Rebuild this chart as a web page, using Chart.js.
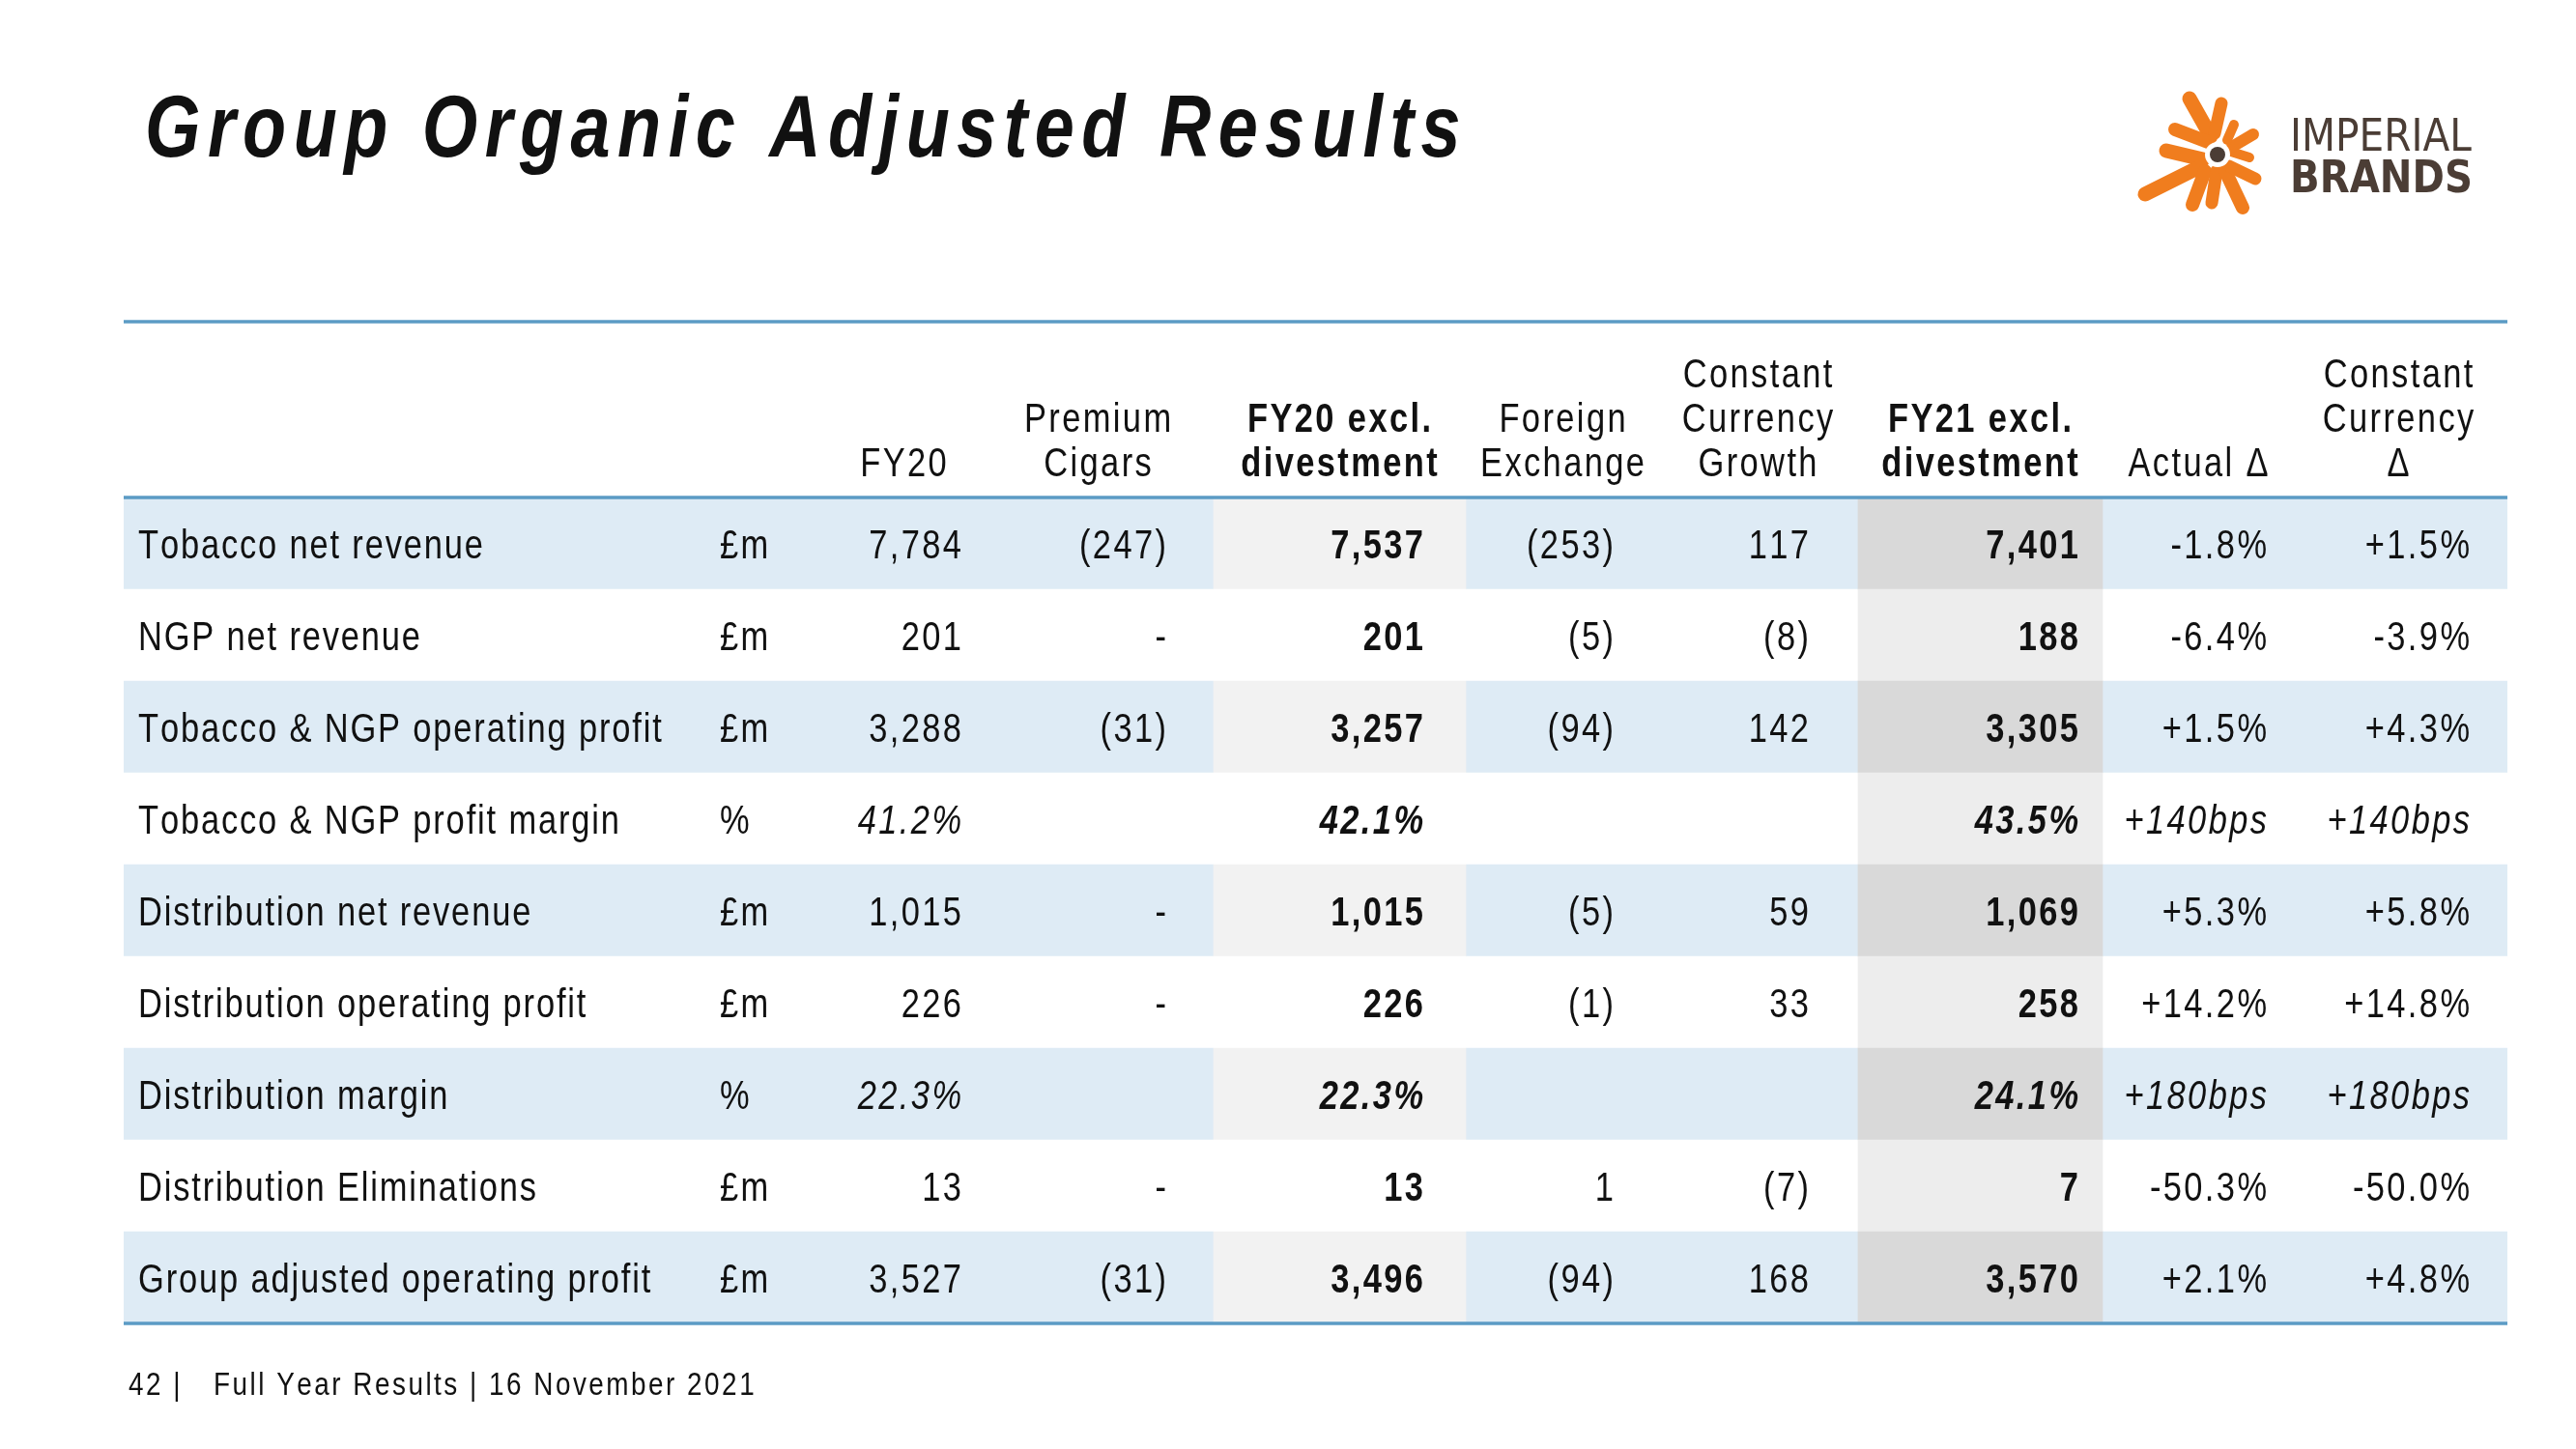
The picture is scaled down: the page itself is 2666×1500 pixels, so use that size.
<!DOCTYPE html>
<html>
<head>
<meta charset="utf-8">
<title>Group Organic Adjusted Results</title>
<script src="https://cdn.jsdelivr.net/npm/chart.js@4.4.1/dist/chart.umd.min.js"></script>
<style>
  html, body { margin: 0; padding: 0; background: #fff; }
  #wrap { width: 2666px; height: 1500px; }
</style>
</head>
<body>
<div id="wrap"><canvas id="results" width="2666" height="1500"></canvas></div>
<script>
// table content
var rowLabels = ['Tobacco net revenue', 'NGP net revenue', 'Tobacco & NGP operating profit', 'Tobacco & NGP profit margin',
    'Distribution net revenue', 'Distribution operating profit', 'Distribution margin', 'Distribution Eliminations',
    'Group adjusted operating profit'];
var units = ['£m', '£m', '£m', '%', '£m', '£m', '%', '£m', '£m'];
var fy20 = ['7,784', '201', '3,288', '41.2%', '1,015', '226', '22.3%', '13', '3,527'];
var premiumCigars = ['(247)', '-', '(31)', '', '-', '-', '', '-', '(31)'];
var fy20Excl = ['7,537', '201', '3,257', '42.1%', '1,015', '226', '22.3%', '13', '3,496'];
var foreignExchange = ['(253)', '(5)', '(94)', '', '(5)', '(1)', '', '1', '(94)'];
var ccGrowth = ['117', '(8)', '142', '', '59', '33', '', '(7)', '168'];
var fy21Excl = ['7,401', '188', '3,305', '43.5%', '1,069', '258', '24.1%', '7', '3,570'];
var actualDelta = ['-1.8%', '-6.4%', '+1.5%', '+140bps', '+5.3%', '+14.2%', '+180bps', '-50.3%', '+2.1%'];
var ccDelta = ['+1.5%', '-3.9%', '+4.3%', '+140bps', '+5.8%', '+14.8%', '+180bps', '-50.0%', '+4.8%'];
var headers = [['FY20'], ['Premium', 'Cigars'], ['FY20 excl.', 'divestment'], ['Foreign', 'Exchange'],
    ['Constant', 'Currency', 'Growth'], ['FY21 excl.', 'divestment'], ['Actual Δ'], ['Constant', 'Currency', 'Δ']];

var titleText = 'Group Organic Adjusted Results';
var footerPage = '42 |';
var footerText = 'Full Year Results | 16 November 2021';

// layout (x in table units = pixels)
var tableLeft = 128, tableRight = 2595;
var fy20ExclBand = [1256, 1517];
var fy21ExclBand = [1923, 2176];
var columns = [
    { values: rowLabels, x: 143, align: 'left', spacing: 1.85 },
    { values: units, x: 745, align: 'left' },
    { values: fy20, x: 995, align: 'right', head: 935 },
    { values: premiumCigars, x: 1207, align: 'right', head: 1136 },
    { values: fy20Excl, x: 1473, align: 'right', bold: true, head: 1386 },
    { values: foreignExchange, x: 1670, align: 'right', head: 1617 },
    { values: ccGrowth, x: 1872, align: 'right', head: 1819 },
    { values: fy21Excl, x: 2151, align: 'right', bold: true, head: 2049 },
    { values: actualDelta, x: 2346, align: 'right', head: 2275 },
    { values: ccDelta, x: 2556, align: 'right', head: 2482 },
];

var BLUE_ROW = '#deebf5';
var RULE = '#5b9bc5';
var INK = '#111111';
var SX = 0.82; // narrow face

function drawText(ctx, s, x, y, o) {
    var size = o.size || 42;
    var spacing = (o.spacing == null ? 2.4 : o.spacing) / SX;
    ctx.save();
    ctx.font = (o.italic ? 'italic ' : '') + (o.bold ? 'bold ' : '') + size + 'px "Liberation Sans", Arial, sans-serif';
    ctx.fillStyle = o.color || INK;
    ctx.textAlign = 'left';
    ctx.textBaseline = 'alphabetic';
    var chars = Array.from(s);
    var widths = chars.map(function (c) { return ctx.measureText(c).width; });
    var w = widths.reduce(function (a, b) { return a + b; }, 0) + spacing * (chars.length - 1);
    var start = o.align === 'right' ? -w : (o.align === 'center' ? -w / 2 : 0);
    ctx.translate(x, y);
    ctx.scale(SX, 1);
    var cx = start;
    chars.forEach(function (c, i) {
        ctx.fillText(c, cx, 0);
        cx += widths[i] + spacing;
    });
    ctx.restore();
}

function fitText(ctx, s, x, y, width, font, color) {
    ctx.save();
    ctx.font = font;
    ctx.fillStyle = color;
    ctx.textBaseline = 'alphabetic';
    var w = ctx.measureText(s).width;
    ctx.translate(x, y);
    ctx.scale(width / w, 1);
    ctx.fillText(s, 0, 0);
    ctx.restore();
}

function drawLogo(ctx) {
    var cx = 2295, cy = 160;
    var rays = [
        [-29, -58, -7, -19, 15], [4, -53, -3, -22, 13], [-44, -26, -10, -13, 14], [-53, -4, -15, 5, 15],
        [-75, 41, -17, 12, 15], [-26, 52, -13, 17, 14], [-6, 50, -1, 17, 13], [26, 55, 8, 17, 14],
        [39, 25, 12, 12, 13], [33, 3, 14, -3, 10], [37, -21, 15, -8, 12], [17, -31, 10, -15, 10]
    ];
    ctx.save();
    ctx.strokeStyle = '#f07d1e';
    ctx.lineCap = 'round';
    rays.forEach(function (r) {
        ctx.lineWidth = r[4];
        ctx.beginPath();
        ctx.moveTo(cx + r[0], cy + r[1]);
        ctx.lineTo(cx + r[2], cy + r[3]);
        ctx.stroke();
    });
    ctx.fillStyle = '#ffffff';
    ctx.beginPath();
    ctx.arc(cx, cy, 13, 0, Math.PI * 2);
    ctx.fill();
    ctx.fillStyle = '#4b3d35';
    ctx.beginPath();
    ctx.arc(cx, cy, 8, 0, Math.PI * 2);
    ctx.fill();
    ctx.restore();
    fitText(ctx, 'IMPERIAL', 2370, 156, 188, '46px "DejaVu Sans", sans-serif', '#4b3d35');
    fitText(ctx, 'BRANDS', 2370, 199, 189, 'bold 46px "DejaVu Sans", sans-serif', '#4b3d35');
}

var tablePlugin = {
    id: 'tableText',
    beforeDraw: function (chart) {
        var ctx = chart.ctx;
        ctx.save();
        ctx.fillStyle = '#ffffff';
        ctx.fillRect(0, 0, chart.width, chart.height);
        ctx.restore();
    },
    afterDatasetsDraw: function (chart) {
        var ctx = chart.ctx;
        var xs = chart.scales.x, ys = chart.scales.y;
        var area = chart.chartArea;

        // title, logo, footer
        drawText(ctx, titleText, 150, 162, { size: 90, bold: true, italic: true, spacing: 7.5 });
        drawLogo(ctx);
        drawText(ctx, footerPage, 133, 1444, { size: 34, spacing: 2.5 });
        drawText(ctx, footerText, 221, 1444, { size: 34, spacing: 2.5 });

        // header
        columns.forEach(function (col, c) {
            if (col.head == null) return;
            var lines = headers[c - 2];
            lines.forEach(function (line, k) {
                var base = area.top - 22 - (lines.length - 1 - k) * 46;
                drawText(ctx, line, xs.getPixelForValue(col.head), base, { align: 'center', bold: col.bold });
            });
        });

        // cells
        rowLabels.forEach(function (label, i) {
            var base = ys.getPixelForValue(i) + 15;
            var pct = units[i] === '%';
            columns.forEach(function (col, c) {
                var v = col.values[i];
                if (!v) return;
                drawText(ctx, v, xs.getPixelForValue(col.x), base, {
                    align: col.align,
                    bold: col.bold,
                    italic: pct && c > 1,
                    spacing: col.spacing
                });
            });
        });

        // rules
        ctx.save();
        ctx.strokeStyle = RULE;
        ctx.lineWidth = 3.5;
        [333, area.top, area.bottom].forEach(function (yy) {
            ctx.beginPath();
            ctx.moveTo(xs.getPixelForValue(tableLeft), yy);
            ctx.lineTo(xs.getPixelForValue(tableRight), yy);
            ctx.stroke();
        });
        ctx.restore();
    }
};

var data = {
    labels: rowLabels,
    datasets: [
        {
            label: 'rows',
            data: rowLabels.map(function () { return [tableLeft, tableRight]; }),
            backgroundColor: function (c) { return c.dataIndex % 2 === 0 ? BLUE_ROW : '#ffffff'; },
            order: 3,
        },
        {
            label: 'FY20 excl. divestment',
            data: rowLabels.map(function () { return fy20ExclBand.slice(); }),
            backgroundColor: function (c) { return c.dataIndex % 2 === 0 ? '#f2f2f2' : '#ffffff'; },
            order: 2,
        },
        {
            label: 'FY21 excl. divestment',
            data: rowLabels.map(function () { return fy21ExclBand.slice(); }),
            backgroundColor: function (c) { return c.dataIndex % 2 === 0 ? '#d9d9d9' : '#ededed'; },
            order: 1,
        },
    ],
};

var config = {
    type: 'bar',
    data: data,
    options: {
        indexAxis: 'y',
        responsive: false,
        animation: false,
        devicePixelRatio: 1,
        layout: { padding: { left: 128, right: 71, top: 515, bottom: 130 } },
        datasets: {
            bar: { grouped: false, barPercentage: 1, categoryPercentage: 1, borderWidth: 0 },
        },
        plugins: {
            legend: { display: false },
            tooltip: { enabled: false },
        },
        scales: {
            x: { type: 'linear', min: tableLeft, max: tableRight, display: false },
            y: { type: 'category', display: false },
        },
    },
    plugins: [tablePlugin],
};

var myChart = new Chart(document.getElementById('results'), config);
</script>
</body>
</html>
